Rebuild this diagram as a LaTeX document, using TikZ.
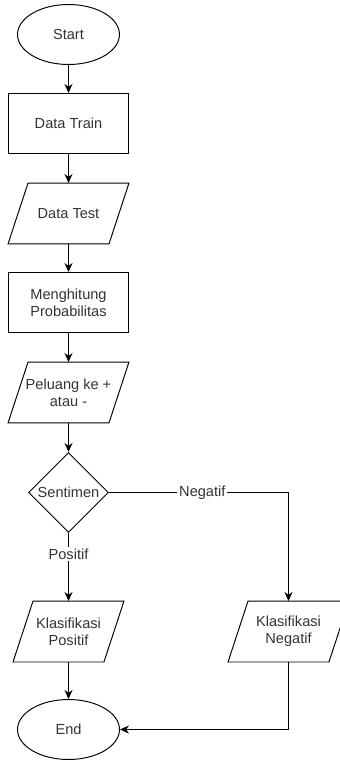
\documentclass[tikz,border=0pt]{standalone}
\usepackage{fontspec}
\setmainfont{Liberation Sans}
\usetikzlibrary{shapes.geometric, arrows.meta}

\begin{document}
\begin{tikzpicture}[x=0.02cm, y=-0.02cm, line width=0.55pt,
    every node/.style={font=\fontsize{8.3pt}{9.7pt}\selectfont, text=black!80, align=center},
    >={Stealth[length=1.8mm, width=1.6mm]},
    terminal/.style={draw, ellipse, minimum width=2.04cm, minimum height=1.2cm, inner sep=0},
    process/.style={draw, rectangle, minimum width=2.4cm, minimum height=1.2cm},
    io/.style={rectangle, minimum width=2cm, minimum height=1.2cm, inner sep=1pt,
        append after command={\pgfextra{\draw ([xshift=2mm]\tikzlastnode.north west)
            -- ([xshift=2mm]\tikzlastnode.north east) -- ([xshift=-2mm]\tikzlastnode.south east)
            -- ([xshift=-2mm]\tikzlastnode.south west) -- cycle;}}},
    decision/.style={draw, diamond, minimum width=1.6cm, minimum height=1.6cm, inner sep=0},
    flow/.style={->}]
\useasboundingbox (-0.5,-0.5) rectangle (339.5,759.5);

% Main column
\node[terminal] (start) at (68,34) {Start};
\node[process] (train) at (68,123) {Data Train};
\node[io] (test) at (68,213) {Data Test};
\node[process] (prob) at (68,302) {Menghitung\\Probabilitas};
\node[io] (peluang) at (68,392) {Peluang ke +\\atau -};
\node[decision] (sentimen) at (68,492) {Sentimen};
\node[io, minimum width=1.8cm] (kpos) at (68,631) {Klasifikasi\\Positif};
\node[io] (kneg) at (288,631) {Klasifikasi\\Negatif};
\node[terminal] (end) at (68,729) {End};

\draw[flow] (start) -- (train);
\draw[flow] (train) -- (test);
\draw[flow] (test) -- (prob);
\draw[flow] (prob) -- (peluang);
\draw[flow] (peluang) -- (sentimen);
\draw[flow] (sentimen) -- node[pos=0.31, fill=white, inner sep=1pt] {Positif} (kpos);
\draw[flow] (sentimen.east) -| node[pos=0.26, fill=white, inner sep=1pt] {Negatif} (kneg.north);
\draw[flow] (kpos) -- (end);
\draw[flow] (kneg.south) |- (end.east);
\end{tikzpicture}
\end{document}
